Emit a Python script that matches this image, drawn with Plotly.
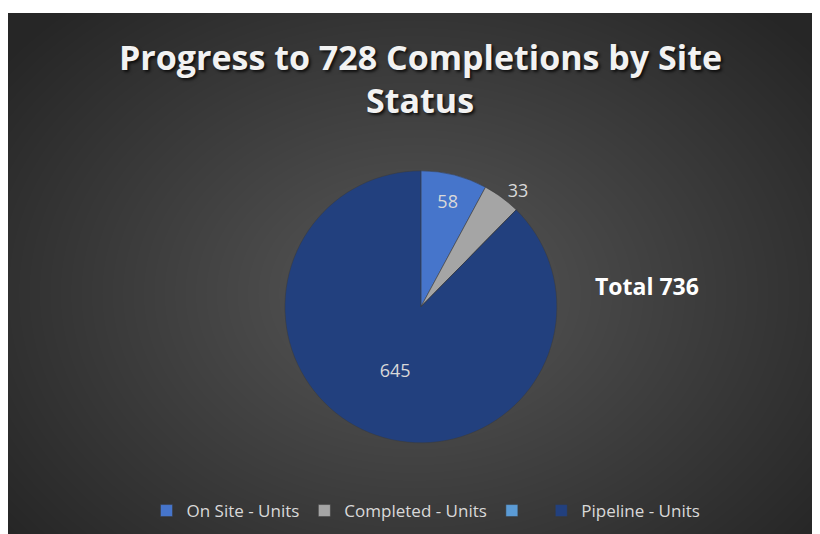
import base64, struct, zlib
import numpy as np
import plotly.graph_objects as go

# ---- data ----
labels = ["On Site - Units", "Completed - Units", " ", "Pipeline - Units"]
values = [58, 33, 0, 645]
colors = ["#4675CB", "#A5A5A5", "#5B9BD5", "#22407E"]
text_positions = ["inside", "outside", "none", "inside"]
title_lines = ["Progress to 728 Completions by Site", "Status"]
total_label = "Total"


def png_uri(arr):
    h, w, _ = arr.shape
    raw = b"".join(b"\x00" + arr[i].tobytes() for i in range(h))

    def chunk(tag, data):
        c = tag + data
        return struct.pack(">I", len(data)) + c + struct.pack(">I", zlib.crc32(c) & 0xFFFFFFFF)

    png = b"\x89PNG\r\n\x1a\n"
    png += chunk(b"IHDR", struct.pack(">IIBBBBB", w, h, 8, 2, 0, 0, 0))
    png += chunk(b"IDAT", zlib.compress(raw, 9))
    png += chunk(b"IEND", b"")
    return "data:image/png;base64," + base64.b64encode(png).decode()


# radial gradient background
W, H = 812, 521
yy, xx = np.mgrid[0:H, 0:W].astype(float)
cx, cy = 406, 280
t = np.sqrt(((xx - cx) / 520) ** 2 + ((yy - cy) / 390) ** 2)
t = np.clip(t, 0, 1)
c = (88 - 50 * t).astype(np.uint8)
img = np.stack([c, c, c], axis=-1)
bg = png_uri(img)

fig = go.Figure()
fig.add_trace(go.Pie(
    labels=labels,
    values=values,
    sort=False,
    direction="clockwise",
    rotation=0,
    marker=dict(colors=colors, line=dict(color="#3a3a3a", width=0.5)),
    textinfo="value",
    textposition=text_positions,
    insidetextfont=dict(color="#D9D9D9", size=18, family="Open Sans"),
    outsidetextfont=dict(color="#D9D9D9", size=18, family="Open Sans"),
    insidetextorientation="horizontal",
    hole=0,
    domain=dict(x=[0.341, 0.676], y=[0.175, 0.697]),
    showlegend=True,
))

fig.add_layout_image(dict(
    source=bg, xref="paper", yref="paper", x=0, y=1, sizex=1, sizey=1,
    xanchor="left", yanchor="top", sizing="stretch", layer="below",
))

title_font = dict(family="Open Sans", size=34, color="#F2F2F2", weight="bold",
                  shadow="2px 2px 3px rgba(0,0,0,0.75)")
fig.add_annotation(text=title_lines[0], xref="paper", yref="paper",
                   x=(420 - 8) / 812, y=1 - (57 - 13) / 521, xanchor="center", yanchor="middle",
                   showarrow=False, font=title_font)
fig.add_annotation(text=title_lines[1], xref="paper", yref="paper",
                   x=(420 - 8) / 812, y=1 - (100 - 13) / 521, xanchor="center", yanchor="middle",
                   showarrow=False, font=title_font)
fig.add_annotation(text=f"{total_label} {sum(values)}", xref="paper", yref="paper",
                   x=(647 - 8) / 812, y=1 - (286 - 13) / 521, xanchor="center", yanchor="middle",
                   showarrow=False,
                   font=dict(family="Open Sans", size=23, color="#FFFFFF", weight="bold"))

fig.update_layout(
    width=812, height=526,
    margin=dict(l=0, r=0, t=5, b=0),
    paper_bgcolor="#FFFFFF",
    plot_bgcolor="rgba(0,0,0,0)",
    legend=dict(orientation="h", x=(426 - 8) / 812, xanchor="center",
                y=1 - (511 - 13) / 521, yanchor="middle",
                font=dict(family="Open Sans", size=17, color="#D9D9D9"),
                bgcolor="rgba(0,0,0,0)", traceorder="normal"),
)

fig.write_html("out.html")
